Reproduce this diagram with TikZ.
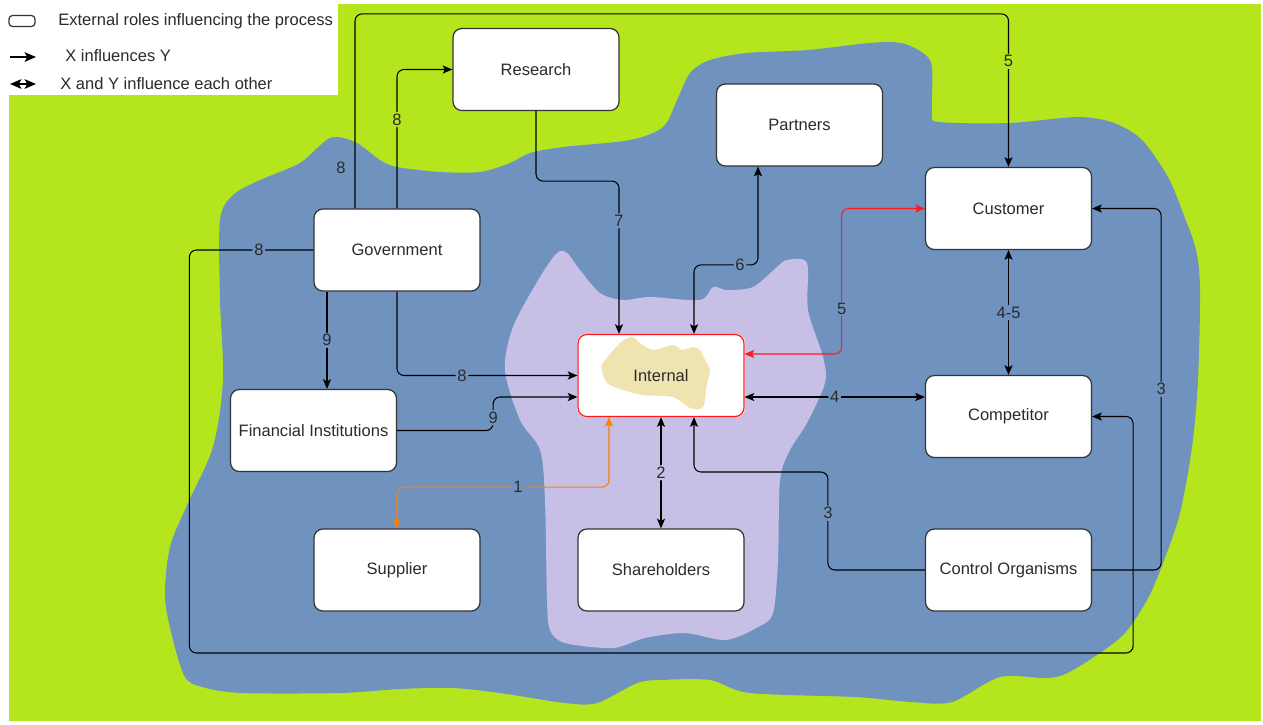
\documentclass[tikz,border=0pt]{standalone}
\usepackage{fontspec}
\setmainfont{Liberation Sans}
\usetikzlibrary{calc,arrows.meta}

\definecolor{limebg}{HTML}{B5E61D}
\definecolor{bluebg}{HTML}{7092BE}
\definecolor{lavbg}{HTML}{C8BFE7}
\definecolor{tanbg}{HTML}{EFE4B0}
\definecolor{boxline}{HTML}{333333}
\definecolor{inktext}{HTML}{2B2B2B}
\definecolor{flowred}{HTML}{FF1A1A}
\definecolor{floworange}{HTML}{FF8000}

\begin{document}
\begin{tikzpicture}[x=0.02cm, y=-0.02cm,
    font=\fontsize{9.4}{11}\selectfont, text=inktext,
    role/.style={rectangle, rounded corners=5pt, draw=boxline, line width=0.7pt,
        fill=white, minimum width=3.32cm, minimum height=1.64cm, inner sep=0pt},
    flow/.style={line width=0.6pt, rounded corners=4pt,
        >={Stealth[length=5.5pt, width=4.6pt, inset=1.2pt]}},
    legflow/.style={line width=0.9pt,
        >={Stealth[length=6.5pt, width=5.5pt, inset=1.5pt]}},
    lbl/.style={fill=bluebg, text=inktext, inner sep=1pt}]

    \useasboundingbox (0,0) rectangle (1263,724);
    \fill[white] (0,0) rectangle (1263,724);
    \fill[limebg] (9,4) rectangle (1261,721);

    \fill[bluebg] plot[smooth cycle, tension=0.5] coordinates {
        (330,138) (355,142) (380,160) (397,167) (440,172) (480,172) (510,163)
        (530,153) (563,147) (630,140) (663,127) (677,100) (690,73) (710,60)
        (747,53) (808,50) (869,43) (901,43) (923,53) (932,67) (932,113)
        (939,122) (1009,123) (1078,117) (1114,123) (1142,140) (1168,177)
        (1183,213) (1196,250) (1200,290) (1198,380) (1192,447) (1180,513)
        (1163,563) (1147,600) (1121,637) (1073,670) (1048,678) (1000,677)
        (952,702) (911,702) (855,697) (750,693) (710,680) (661,680) (637,683)
        (597,703) (565,703) (500,693) (452,688) (400,689) (340,693) (242,693)
        (202,687) (185,677) (173,640) (165,597) (170,547) (188,503) (213,447)
        (223,380) (220,300) (220,220) (233,195) (260,180) (300,163)};

    \fill[lavbg] plot[smooth cycle, tension=0.5] coordinates {
        (513,327) (540,277) (557,253) (567,253) (580,270) (600,293) (623,300)
        (650,297) (700,300) (713,287) (727,290) (753,287) (777,267) (787,260)
        (807,263) (808,310) (823,357) (825,383) (807,423) (790,450) (780,480)
        (778,560) (773,613) (758,627) (726,640) (685,633) (645,638) (613,648)
        (565,643) (550,630) (547,600) (545,500) (540,450) (520,420) (505,370)};

    \fill[white, rounded corners=5pt] (577,334) rectangle (745,417);
    \fill[tanbg] plot[smooth cycle, tension=0.5] coordinates {
        (603,363) (620,343) (632,337) (640,343) (653,350) (673,345) (682,350)
        (693,347) (700,350) (705,360) (710,370) (707,383) (703,407) (690,408)
        (673,397) (643,395) (623,390) (607,383) (602,370)};

    \fill[white] (0,0) rectangle (338,95);

    \node (lgbox) at (22,21) [rectangle, rounded corners=2pt, draw=boxline, line width=0.7pt,
        minimum width=0.52cm, minimum height=0.22cm, inner sep=0pt] {};
    \node (lgone) at (58,21) [anchor=west, inner sep=0pt] {External roles influencing the process};
    \node (lgtwo) at (65,56) [anchor=west, inner sep=0pt] {X influences Y};
    \node (lgthree) at (60,84) [anchor=west, inner sep=0pt] {X and Y influence each other};
    \coordinate (lga) at (10,57);
    \coordinate (lgb) at (36,57);
    \coordinate (lgc) at (10,84);
    \coordinate (lgd) at (36,84);
    \draw[legflow, ->] (lga) -- (lgb);
    \draw[legflow, <->] (lgc) -- (lgd);

    \node (res) at (536,69.5) [role] {Research};
    \node (par) at (799.5,125) [role] {Partners};
    \node (cus) at (1008.5,208.5) [role] {Customer};
    \node (gov) at (397,250) [role] {Government};
    \node (int) at (661,375.5) [role, fill=none, draw=flowred] {Internal};
    \node (com) at (1008.5,416.5) [role] {Competitor};
    \node (fin) at (313.5,430.5) [role] {Financial Institutions};
    \node (sup) at (397,570) [role] {Supplier};
    \node (sha) at (661,570) [role] {Shareholders};
    \node (con) at (1008.5,570) [role] {Control Organisms};

    \draw[flow, ->] (gov.north) |- (res.west)
        node [lbl, fill=limebg, pos=.32] {8};

    \draw[flow, ->] ($(gov.north)+(-42,0)$) |- ($(cus.north)+(0,-153)$)
        node [lbl, pos=.105, xshift=-8pt] {8}
        -- node [lbl, fill=limebg, pos=.31] {5} (cus.north);

    \draw[flow, ->] ($(gov.south)+(-70,0)$) coordinate (gnine) -- (gnine |- fin.north)
        node [lbl, midway] {9};

    \draw[flow, ->] (gov.south) |- (int.west)
        node [lbl, pos=.68] {8};

    \draw[flow, ->] (gov.west) -- node [lbl, pos=.44] {8} ++(-124,0)
        -- ++(0,403) -| ($(com.east)+(41,0)$) -- (com.east);

    \draw[flow, ->] (res.south) -- ++(0,70) -| ($(int.north)+(-42,0)$)
        node [lbl, pos=.63] {7};

    \draw[flow, <->] ($(int.north)+(33,0)$) -- ++(0,-69) -| ($(par.south)+(-41.5,0)$)
        node [lbl, pos=.36] {6};

    \draw[flow, flowred, <->] ($(int.east)+(0,-21.5)$) -- ++(97,0) |- (cus.west)
        node [lbl, pos=.155] {5};

    \draw[flow, <->] ($(int.east)+(0,21.5)$) coordinate (ifour) -- (ifour -| com.west)
        node [lbl, midway] {4};

    \draw[flow, <->] (cus.south) -- (com.north)
        node [lbl, midway] {4-5};

    \draw[flow, ->] (con.east) -- ++(69,0) |- (cus.east)
        node [lbl, pos=.25] {3};

    \draw[flow, ->] (con.west) -- ++(-97,0) -- node [lbl, pos=.58] {3} ++(0,-98)
        -| ($(int.south)+(33,0)$);

    \draw[flow, <->] (int.south) -- (sha.north)
        node [lbl, fill=lavbg, midway] {2};

    \draw[flow, floworange, <->] ($(int.south)+(-52,0)$) -- ++(0,70) -| (sup.north)
        node [lbl, pos=.215] {1};

    \draw[flow, ->] (fin.east) -- ++(96,0) |- ($(int.west)+(0,21.5)$)
        node [lbl, pos=.19] {9};
\end{tikzpicture}
\end{document}
